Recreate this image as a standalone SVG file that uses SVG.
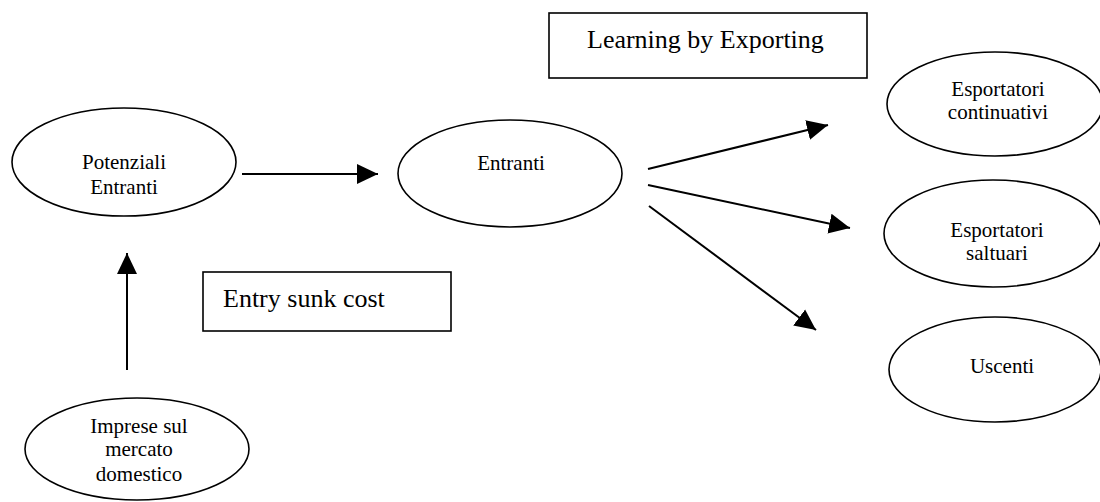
<svg xmlns="http://www.w3.org/2000/svg" width="1100" height="502" viewBox="0 0 1100 502">
<style>
.n{fill:#fff;stroke:#000;stroke-width:1.6}
.t{font-family:'Liberation Serif','Tinos','DejaVu Serif',serif;font-size:21px;fill:#000;text-anchor:middle}
.b{font-family:'Liberation Serif','Tinos','DejaVu Serif',serif;font-size:26px;fill:#000}
.c{stroke:#000;stroke-width:2;fill:none}
</style>
<defs>
<marker id="ah" markerUnits="userSpaceOnUse" markerWidth="22" markerHeight="22" refX="21" refY="10" orient="auto" viewBox="0 0 22 20">
<path d="M0,0 L21,10 L0,20 z" fill="#000"/>
</marker>
</defs>
<rect width="1100" height="502" fill="#fff"/>
<g id="potenziali">
<ellipse class="n" cx="124" cy="162" rx="112" ry="54"/>
<text class="t" x="124" y="169">Potenziali</text>
<text class="t" x="124" y="194">Entranti</text>
</g>
<g id="entranti">
<ellipse class="n" cx="510" cy="173.5" rx="112" ry="53.5"/>
<text class="t" x="511" y="170">Entranti</text>
</g>
<g id="continuativi">
<ellipse class="n" cx="995" cy="104" rx="108" ry="52"/>
<text class="t" x="998" y="96">Esportatori</text>
<text class="t" x="998" y="119">continuativi</text>
</g>
<g id="saltuari">
<ellipse class="n" cx="993" cy="233.5" rx="109" ry="53.5"/>
<text class="t" x="997" y="237">Esportatori</text>
<text class="t" x="997" y="260">saltuari</text>
</g>
<g id="uscenti">
<ellipse class="n" cx="995" cy="369.5" rx="106" ry="52.5"/>
<text class="t" x="1002" y="373">Uscenti</text>
</g>
<g id="imprese">
<ellipse class="n" cx="137" cy="449" rx="112" ry="51"/>
<text class="t" x="139" y="433">Imprese sul</text>
<text class="t" x="139" y="456">mercato</text>
<text class="t" x="139" y="481">domestico</text>
</g>
<g id="entry-sunk-cost">
<rect class="n" x="203" y="272" width="248" height="59"/>
<text class="b" x="223" y="307">Entry sunk cost</text>
</g>
<g id="learning-by-exporting">
<rect class="n" x="549" y="13" width="318" height="65"/>
<text class="b" x="587" y="48">Learning by Exporting</text>
</g>
<g id="connectors">
<line class="c" x1="242" y1="174" x2="378" y2="174" marker-end="url(#ah)"/>
<line class="c" x1="127" y1="370" x2="127" y2="253" marker-end="url(#ah)"/>
<line class="c" x1="648" y1="169" x2="828" y2="125" marker-end="url(#ah)"/>
<line class="c" x1="648" y1="185" x2="850" y2="228" marker-end="url(#ah)"/>
<line class="c" x1="649" y1="206" x2="816" y2="330" marker-end="url(#ah)"/>
</g>
</svg>
